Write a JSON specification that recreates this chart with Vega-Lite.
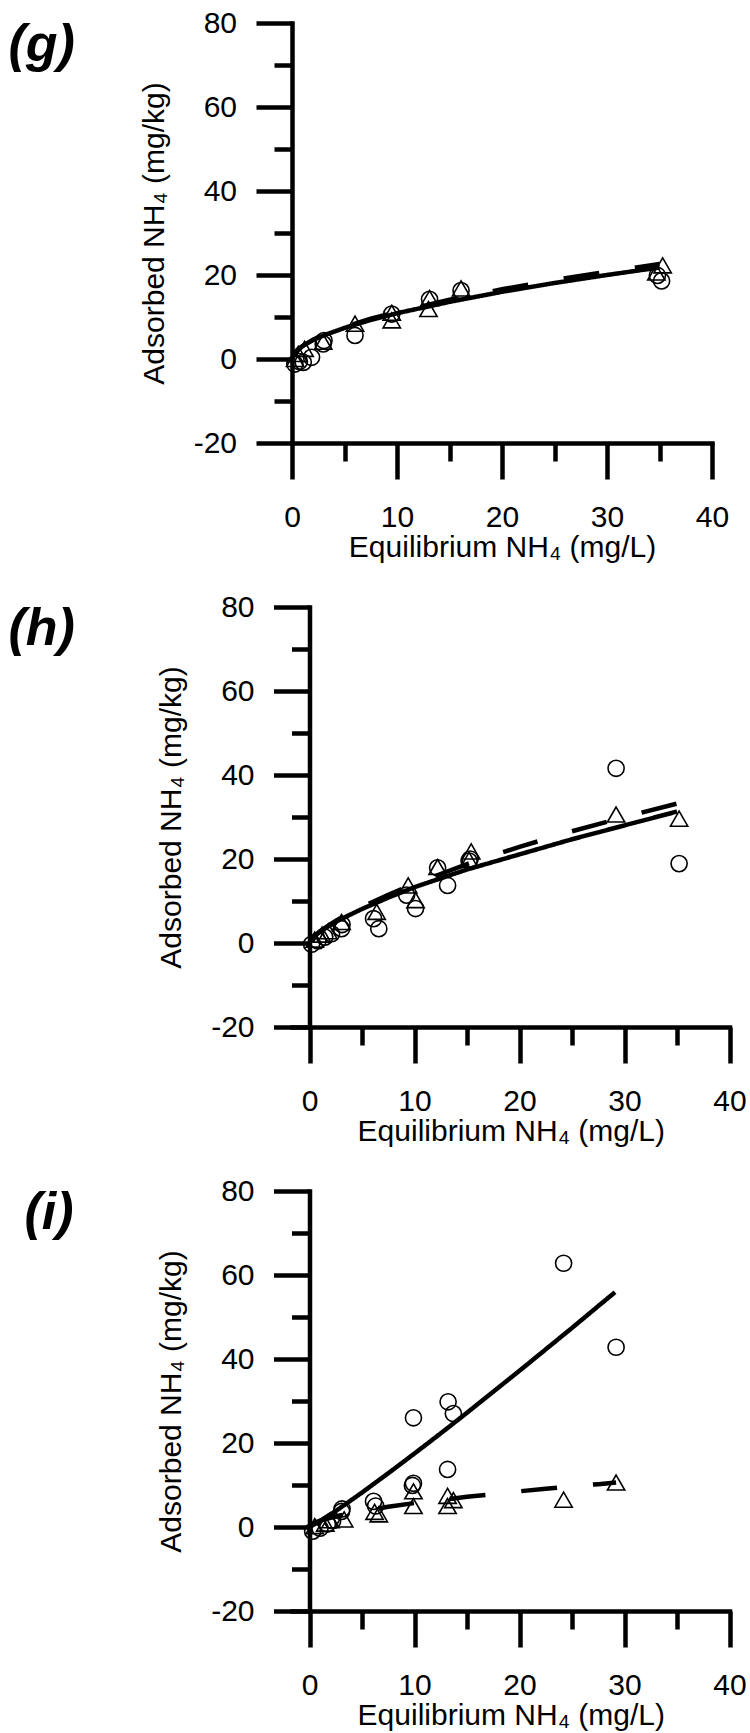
{
  "$schema": "https://vega.github.io/schema/vega-lite/v6.json",
  "padding": {"left": 8, "top": 8, "right": 0, "bottom": 5},
  "spacing": 30,
  "datasets": {
    "points": [
      {"panel": "g", "series": "Series A", "x": 0.27, "y": -1.2},
      {"panel": "g", "series": "Series A", "x": 0.7, "y": -0.6},
      {"panel": "g", "series": "Series A", "x": 1.07, "y": -0.8},
      {"panel": "g", "series": "Series A", "x": 1.86, "y": 0.4},
      {"panel": "g", "series": "Series A", "x": 2.97, "y": 3.6},
      {"panel": "g", "series": "Series A", "x": 3.05, "y": 4.4},
      {"panel": "g", "series": "Series A", "x": 6.0, "y": 5.6},
      {"panel": "g", "series": "Series A", "x": 9.5, "y": 10.7},
      {"panel": "g", "series": "Series A", "x": 13.1, "y": 14.2},
      {"panel": "g", "series": "Series A", "x": 16.1, "y": 16.3},
      {"panel": "g", "series": "Series A", "x": 34.8, "y": 19.9},
      {"panel": "g", "series": "Series A", "x": 35.2, "y": 18.6},
      {"panel": "g", "series": "Series B", "x": 0.3, "y": 0.0},
      {"panel": "g", "series": "Series B", "x": 0.6, "y": 1.2},
      {"panel": "g", "series": "Series B", "x": 1.2, "y": 2.4},
      {"panel": "g", "series": "Series B", "x": 2.97, "y": 4.1},
      {"panel": "g", "series": "Series B", "x": 6.0, "y": 8.4},
      {"panel": "g", "series": "Series B", "x": 9.5, "y": 9.2},
      {"panel": "g", "series": "Series B", "x": 9.5, "y": 11.0},
      {"panel": "g", "series": "Series B", "x": 13.0, "y": 11.9},
      {"panel": "g", "series": "Series B", "x": 13.1, "y": 14.5},
      {"panel": "g", "series": "Series B", "x": 16.1, "y": 16.8},
      {"panel": "g", "series": "Series B", "x": 34.7, "y": 20.6},
      {"panel": "g", "series": "Series B", "x": 35.3, "y": 22.3},

      {"panel": "h", "series": "Series A", "x": 0.2, "y": -0.3},
      {"panel": "h", "series": "Series A", "x": 0.8, "y": 0.5},
      {"panel": "h", "series": "Series A", "x": 1.45, "y": 1.4},
      {"panel": "h", "series": "Series A", "x": 2.1, "y": 2.2},
      {"panel": "h", "series": "Series A", "x": 3.05, "y": 3.4},
      {"panel": "h", "series": "Series A", "x": 3.1, "y": 4.4},
      {"panel": "h", "series": "Series A", "x": 6.1, "y": 5.8},
      {"panel": "h", "series": "Series A", "x": 6.6, "y": 3.4},
      {"panel": "h", "series": "Series A", "x": 9.25, "y": 11.4},
      {"panel": "h", "series": "Series A", "x": 10.1, "y": 8.2},
      {"panel": "h", "series": "Series A", "x": 12.2, "y": 17.9},
      {"panel": "h", "series": "Series A", "x": 13.15, "y": 13.7},
      {"panel": "h", "series": "Series A", "x": 15.2, "y": 19.5},
      {"panel": "h", "series": "Series A", "x": 15.3, "y": 20.0},
      {"panel": "h", "series": "Series A", "x": 29.2, "y": 41.6},
      {"panel": "h", "series": "Series A", "x": 35.2, "y": 18.9},
      {"panel": "h", "series": "Series B", "x": 0.5, "y": 0.8},
      {"panel": "h", "series": "Series B", "x": 1.2, "y": 2.0},
      {"panel": "h", "series": "Series B", "x": 1.8, "y": 2.8},
      {"panel": "h", "series": "Series B", "x": 3.05, "y": 5.0},
      {"panel": "h", "series": "Series B", "x": 6.4, "y": 7.4},
      {"panel": "h", "series": "Series B", "x": 9.4, "y": 13.7},
      {"panel": "h", "series": "Series B", "x": 10.1, "y": 10.2},
      {"panel": "h", "series": "Series B", "x": 12.2, "y": 18.1},
      {"panel": "h", "series": "Series B", "x": 15.2, "y": 19.8},
      {"panel": "h", "series": "Series B", "x": 15.4, "y": 21.8},
      {"panel": "h", "series": "Series B", "x": 29.2, "y": 30.6},
      {"panel": "h", "series": "Series B", "x": 35.2, "y": 29.6},

      {"panel": "i", "series": "Series A", "x": 0.3, "y": -1.0},
      {"panel": "i", "series": "Series A", "x": 1.0, "y": -0.3},
      {"panel": "i", "series": "Series A", "x": 1.7, "y": 0.7},
      {"panel": "i", "series": "Series A", "x": 2.2, "y": 1.5},
      {"panel": "i", "series": "Series A", "x": 3.05, "y": 3.7},
      {"panel": "i", "series": "Series A", "x": 3.1, "y": 4.3},
      {"panel": "i", "series": "Series A", "x": 6.1, "y": 6.1},
      {"panel": "i", "series": "Series A", "x": 6.3, "y": 5.0},
      {"panel": "i", "series": "Series A", "x": 9.8, "y": 9.9},
      {"panel": "i", "series": "Series A", "x": 9.9, "y": 10.4},
      {"panel": "i", "series": "Series A", "x": 9.9, "y": 26.0},
      {"panel": "i", "series": "Series A", "x": 13.15, "y": 13.7},
      {"panel": "i", "series": "Series A", "x": 13.2, "y": 29.8},
      {"panel": "i", "series": "Series A", "x": 13.7, "y": 27.0},
      {"panel": "i", "series": "Series A", "x": 24.2, "y": 62.8},
      {"panel": "i", "series": "Series A", "x": 29.2, "y": 42.8},
      {"panel": "i", "series": "Series B", "x": 0.5, "y": 0.2},
      {"panel": "i", "series": "Series B", "x": 1.5, "y": 0.8},
      {"panel": "i", "series": "Series B", "x": 2.0, "y": 1.6},
      {"panel": "i", "series": "Series B", "x": 3.3, "y": 1.8},
      {"panel": "i", "series": "Series B", "x": 6.2, "y": 3.6},
      {"panel": "i", "series": "Series B", "x": 6.6, "y": 3.0},
      {"panel": "i", "series": "Series B", "x": 9.9, "y": 5.0},
      {"panel": "i", "series": "Series B", "x": 9.9, "y": 8.5},
      {"panel": "i", "series": "Series B", "x": 13.15, "y": 5.0},
      {"panel": "i", "series": "Series B", "x": 13.15, "y": 7.4},
      {"panel": "i", "series": "Series B", "x": 13.7, "y": 6.4},
      {"panel": "i", "series": "Series B", "x": 24.2, "y": 6.5},
      {"panel": "i", "series": "Series B", "x": 29.2, "y": 10.6}
    ],
    "fits": [
      {"panel": "g", "series": "Series A", "x": 0, "y": 0},
      {"panel": "g", "series": "Series A", "x": 0.25, "y": 1.4},
      {"panel": "g", "series": "Series A", "x": 0.5, "y": 2.1},
      {"panel": "g", "series": "Series A", "x": 1, "y": 3.05},
      {"panel": "g", "series": "Series A", "x": 2, "y": 4.5},
      {"panel": "g", "series": "Series A", "x": 3, "y": 5.6},
      {"panel": "g", "series": "Series A", "x": 5, "y": 7.4},
      {"panel": "g", "series": "Series A", "x": 7.5, "y": 9.3},
      {"panel": "g", "series": "Series A", "x": 10, "y": 10.9},
      {"panel": "g", "series": "Series A", "x": 15, "y": 13.6},
      {"panel": "g", "series": "Series A", "x": 20, "y": 16.0},
      {"panel": "g", "series": "Series A", "x": 25, "y": 18.1},
      {"panel": "g", "series": "Series A", "x": 30, "y": 20.0},
      {"panel": "g", "series": "Series A", "x": 35, "y": 21.8},
      {"panel": "g", "series": "Series B", "x": 0, "y": 0},
      {"panel": "g", "series": "Series B", "x": 0.25, "y": 1.4},
      {"panel": "g", "series": "Series B", "x": 0.5, "y": 2.1},
      {"panel": "g", "series": "Series B", "x": 1, "y": 3.1},
      {"panel": "g", "series": "Series B", "x": 2, "y": 4.6},
      {"panel": "g", "series": "Series B", "x": 3, "y": 5.8},
      {"panel": "g", "series": "Series B", "x": 5, "y": 7.6},
      {"panel": "g", "series": "Series B", "x": 7.5, "y": 9.6},
      {"panel": "g", "series": "Series B", "x": 10, "y": 11.2},
      {"panel": "g", "series": "Series B", "x": 15, "y": 14.1},
      {"panel": "g", "series": "Series B", "x": 20, "y": 16.6},
      {"panel": "g", "series": "Series B", "x": 25, "y": 18.8},
      {"panel": "g", "series": "Series B", "x": 30, "y": 20.8},
      {"panel": "g", "series": "Series B", "x": 35, "y": 22.6},

      {"panel": "h", "series": "Series A", "x": 0, "y": 0},
      {"panel": "h", "series": "Series A", "x": 0.25, "y": 1.0},
      {"panel": "h", "series": "Series A", "x": 0.5, "y": 1.7},
      {"panel": "h", "series": "Series A", "x": 1, "y": 2.7},
      {"panel": "h", "series": "Series A", "x": 2, "y": 4.3},
      {"panel": "h", "series": "Series A", "x": 3, "y": 5.7},
      {"panel": "h", "series": "Series A", "x": 5, "y": 8.1},
      {"panel": "h", "series": "Series A", "x": 7.5, "y": 10.8},
      {"panel": "h", "series": "Series A", "x": 10, "y": 13.3},
      {"panel": "h", "series": "Series A", "x": 15, "y": 17.5},
      {"panel": "h", "series": "Series A", "x": 20, "y": 21.1},
      {"panel": "h", "series": "Series A", "x": 25, "y": 24.7},
      {"panel": "h", "series": "Series A", "x": 30, "y": 28.0},
      {"panel": "h", "series": "Series A", "x": 35, "y": 31.3},
      {"panel": "h", "series": "Series B", "x": 0, "y": 0},
      {"panel": "h", "series": "Series B", "x": 0.25, "y": 1.0},
      {"panel": "h", "series": "Series B", "x": 0.5, "y": 1.7},
      {"panel": "h", "series": "Series B", "x": 1, "y": 2.8},
      {"panel": "h", "series": "Series B", "x": 2, "y": 4.5},
      {"panel": "h", "series": "Series B", "x": 3, "y": 6.0},
      {"panel": "h", "series": "Series B", "x": 5, "y": 8.6},
      {"panel": "h", "series": "Series B", "x": 7.5, "y": 11.5},
      {"panel": "h", "series": "Series B", "x": 10, "y": 14.1},
      {"panel": "h", "series": "Series B", "x": 15, "y": 18.8},
      {"panel": "h", "series": "Series B", "x": 20, "y": 22.9},
      {"panel": "h", "series": "Series B", "x": 25, "y": 26.6},
      {"panel": "h", "series": "Series B", "x": 30, "y": 30.0},
      {"panel": "h", "series": "Series B", "x": 35, "y": 33.2},

      {"panel": "i", "series": "Series A", "x": 0, "y": 0},
      {"panel": "i", "series": "Series A", "x": 1, "y": 1.4},
      {"panel": "i", "series": "Series A", "x": 2.5, "y": 3.8},
      {"panel": "i", "series": "Series A", "x": 5, "y": 8.2},
      {"panel": "i", "series": "Series A", "x": 7.5, "y": 12.8},
      {"panel": "i", "series": "Series A", "x": 10, "y": 17.5},
      {"panel": "i", "series": "Series A", "x": 12.5, "y": 22.3},
      {"panel": "i", "series": "Series A", "x": 15, "y": 27.2},
      {"panel": "i", "series": "Series A", "x": 17.5, "y": 32.2},
      {"panel": "i", "series": "Series A", "x": 20, "y": 37.2},
      {"panel": "i", "series": "Series A", "x": 22.5, "y": 42.3},
      {"panel": "i", "series": "Series A", "x": 25, "y": 47.4},
      {"panel": "i", "series": "Series A", "x": 27.5, "y": 52.6},
      {"panel": "i", "series": "Series A", "x": 29.1, "y": 55.9},
      {"panel": "i", "series": "Series B", "x": 0, "y": 0},
      {"panel": "i", "series": "Series B", "x": 0.5, "y": 1.0},
      {"panel": "i", "series": "Series B", "x": 1, "y": 1.5},
      {"panel": "i", "series": "Series B", "x": 2, "y": 2.2},
      {"panel": "i", "series": "Series B", "x": 3, "y": 2.8},
      {"panel": "i", "series": "Series B", "x": 5, "y": 3.8},
      {"panel": "i", "series": "Series B", "x": 7.5, "y": 4.8},
      {"panel": "i", "series": "Series B", "x": 10, "y": 5.7},
      {"panel": "i", "series": "Series B", "x": 12.5, "y": 6.4},
      {"panel": "i", "series": "Series B", "x": 15, "y": 7.2},
      {"panel": "i", "series": "Series B", "x": 17.5, "y": 7.8},
      {"panel": "i", "series": "Series B", "x": 20, "y": 8.5},
      {"panel": "i", "series": "Series B", "x": 22.5, "y": 9.1},
      {"panel": "i", "series": "Series B", "x": 25, "y": 9.7},
      {"panel": "i", "series": "Series B", "x": 27.5, "y": 10.2},
      {"panel": "i", "series": "Series B", "x": 29.2, "y": 10.6}
    ]
  },
  "vconcat": [
    {
      "width": 420, "height": 420,
      "title": {"text": "(g)", "orient": "left", "anchor": "end", "frame": "group", "angle": 0, "align": "center", "baseline": "top", "offset": 31, "dy": -3, "fontSize": 52, "fontWeight": "bold", "fontStyle": "italic", "font": "Liberation Sans", "color": "black"},
      "encoding": {
        "x": {"field": "x", "type": "quantitative", "scale": {"domain": [0, 40], "nice": false, "zero": false},
          "axis": {"values": [0,5,10,15,20,25,30,35,40], "tickSize": {"condition": {"test": "datum.value % 10 === 0", "value": 36}, "value": 18}, "labelExpr": "datum.value % 10 === 0 ? '' + datum.value : ''", "labelPadding": 23, "title": "Equilibrium NH₄ (mg/L)", "titlePadding": 0}},
        "y": {"field": "y", "type": "quantitative", "scale": {"domain": [-20, 80], "nice": false, "zero": false},
          "axis": {"values": [-20,-10,0,10,20,30,40,50,60,70,80], "tickSize": {"condition": {"test": "datum.value % 20 === 0", "value": 36}, "value": 18}, "labelExpr": "datum.value % 20 === 0 ? '' + datum.value : ''", "labelPadding": 19.5, "title": "Adsorbed NH₄ (mg/kg)", "titlePadding": 24, "offset": 0}}
      },
      "layer": [
        {"data": {"name": "fits"}, "transform": [{"filter": "datum.panel === 'g'"}],
          "mark": {"type": "line", "color": "black", "strokeWidth": 4.5, "strokeCap": "butt"},
          "encoding": {"strokeDash": {"field": "series", "type": "nominal", "scale": {"domain": ["Series A", "Series B"], "range": [[1, 0], [36, 36]]}, "legend": null}}},
        {"data": {"name": "points"}, "transform": [{"filter": "datum.panel === 'g'"}],
          "mark": {"type": "point", "filled": false, "color": "black", "strokeWidth": 1.6, "opacity": 1},
          "encoding": {
            "shape": {"field": "series", "type": "nominal", "scale": {"domain": ["Series A", "Series B"], "range": ["circle", "triangle-up"]}, "legend": null},
            "size": {"field": "series", "type": "nominal", "scale": {"domain": ["Series A", "Series B"], "range": [260, 300]}, "legend": null}}}
      ]
    },
    {
      "width": 437.5, "height": 420,
      "title": {"text": "(h)", "orient": "left", "anchor": "end", "frame": "group", "angle": 0, "align": "center", "baseline": "top", "offset": 48.5, "dy": -3, "fontSize": 52, "fontWeight": "bold", "fontStyle": "italic", "font": "Liberation Sans", "color": "black"},
      "encoding": {
        "x": {"field": "x", "type": "quantitative", "scale": {"domain": [-1.6667, 40], "nice": false, "zero": false},
          "axis": {"values": [0,5,10,15,20,25,30,35,40], "tickSize": {"condition": {"test": "datum.value % 10 === 0", "value": 36}, "value": 18}, "labelExpr": "datum.value % 10 === 0 ? '' + datum.value : ''", "labelPadding": 23, "title": "Equilibrium NH₄ (mg/L)", "titlePadding": 0}},
        "y": {"field": "y", "type": "quantitative", "scale": {"domain": [-20, 80], "nice": false, "zero": false},
          "axis": {"values": [-20,-10,0,10,20,30,40,50,60,70,80], "tickSize": {"condition": {"test": "datum.value % 20 === 0", "value": 36}, "value": 18}, "labelExpr": "datum.value % 20 === 0 ? '' + datum.value : ''", "labelPadding": 19.5, "title": "Adsorbed NH₄ (mg/kg)", "titlePadding": 24, "offset": -17.5}}
      },
      "layer": [
        {"data": {"name": "fits"}, "transform": [{"filter": "datum.panel === 'h'"}],
          "mark": {"type": "line", "color": "black", "strokeWidth": 4.5, "strokeCap": "butt"},
          "encoding": {"strokeDash": {"field": "series", "type": "nominal", "scale": {"domain": ["Series A", "Series B"], "range": [[1, 0], [36, 36]]}, "legend": null}}},
        {"data": {"name": "points"}, "transform": [{"filter": "datum.panel === 'h'"}],
          "mark": {"type": "point", "filled": false, "color": "black", "strokeWidth": 1.6, "opacity": 1},
          "encoding": {
            "shape": {"field": "series", "type": "nominal", "scale": {"domain": ["Series A", "Series B"], "range": ["circle", "triangle-up"]}, "legend": null},
            "size": {"field": "series", "type": "nominal", "scale": {"domain": ["Series A", "Series B"], "range": [260, 300]}, "legend": null}}}
      ]
    },
    {
      "width": 437.5, "height": 420,
      "title": {"text": "(i)", "orient": "left", "anchor": "end", "frame": "group", "angle": 0, "align": "center", "baseline": "top", "offset": 58.5, "dy": -3, "fontSize": 52, "fontWeight": "bold", "fontStyle": "italic", "font": "Liberation Sans", "color": "black"},
      "encoding": {
        "x": {"field": "x", "type": "quantitative", "scale": {"domain": [-1.6667, 40], "nice": false, "zero": false},
          "axis": {"values": [0,5,10,15,20,25,30,35,40], "tickSize": {"condition": {"test": "datum.value % 10 === 0", "value": 36}, "value": 18}, "labelExpr": "datum.value % 10 === 0 ? '' + datum.value : ''", "labelPadding": 23, "title": "Equilibrium NH₄ (mg/L)", "titlePadding": 0}},
        "y": {"field": "y", "type": "quantitative", "scale": {"domain": [-20, 80], "nice": false, "zero": false},
          "axis": {"values": [-20,-10,0,10,20,30,40,50,60,70,80], "tickSize": {"condition": {"test": "datum.value % 20 === 0", "value": 36}, "value": 18}, "labelExpr": "datum.value % 20 === 0 ? '' + datum.value : ''", "labelPadding": 19.5, "title": "Adsorbed NH₄ (mg/kg)", "titlePadding": 24, "offset": -17.5}}
      },
      "layer": [
        {"data": {"name": "fits"}, "transform": [{"filter": "datum.panel === 'i'"}],
          "mark": {"type": "line", "color": "black", "strokeWidth": 4.5, "strokeCap": "butt"},
          "encoding": {"strokeDash": {"field": "series", "type": "nominal", "scale": {"domain": ["Series A", "Series B"], "range": [[1, 0], [36, 36]]}, "legend": null}}},
        {"data": {"name": "points"}, "transform": [{"filter": "datum.panel === 'i'"}],
          "mark": {"type": "point", "filled": false, "color": "black", "strokeWidth": 1.6, "opacity": 1},
          "encoding": {
            "shape": {"field": "series", "type": "nominal", "scale": {"domain": ["Series A", "Series B"], "range": ["circle", "triangle-up"]}, "legend": null},
            "size": {"field": "series", "type": "nominal", "scale": {"domain": ["Series A", "Series B"], "range": [260, 300]}, "legend": null}}}
      ]
    }
  ],
  "config": {
    "view": {"stroke": null},
    "font": "Liberation Sans",
    "axis": {"domainColor": "black", "domainWidth": 4.5, "domainCap": "square", "tickColor": "black", "tickWidth": 4.5, "labelColor": "black", "titleColor": "black", "labelFont": "Liberation Sans", "titleFont": "Liberation Sans", "labelFontSize": 30, "titleFontSize": 30, "titleFontWeight": "normal", "grid": false, "labelOverlap": false, "labelFlush": false, "labelBound": false}
  }
}
